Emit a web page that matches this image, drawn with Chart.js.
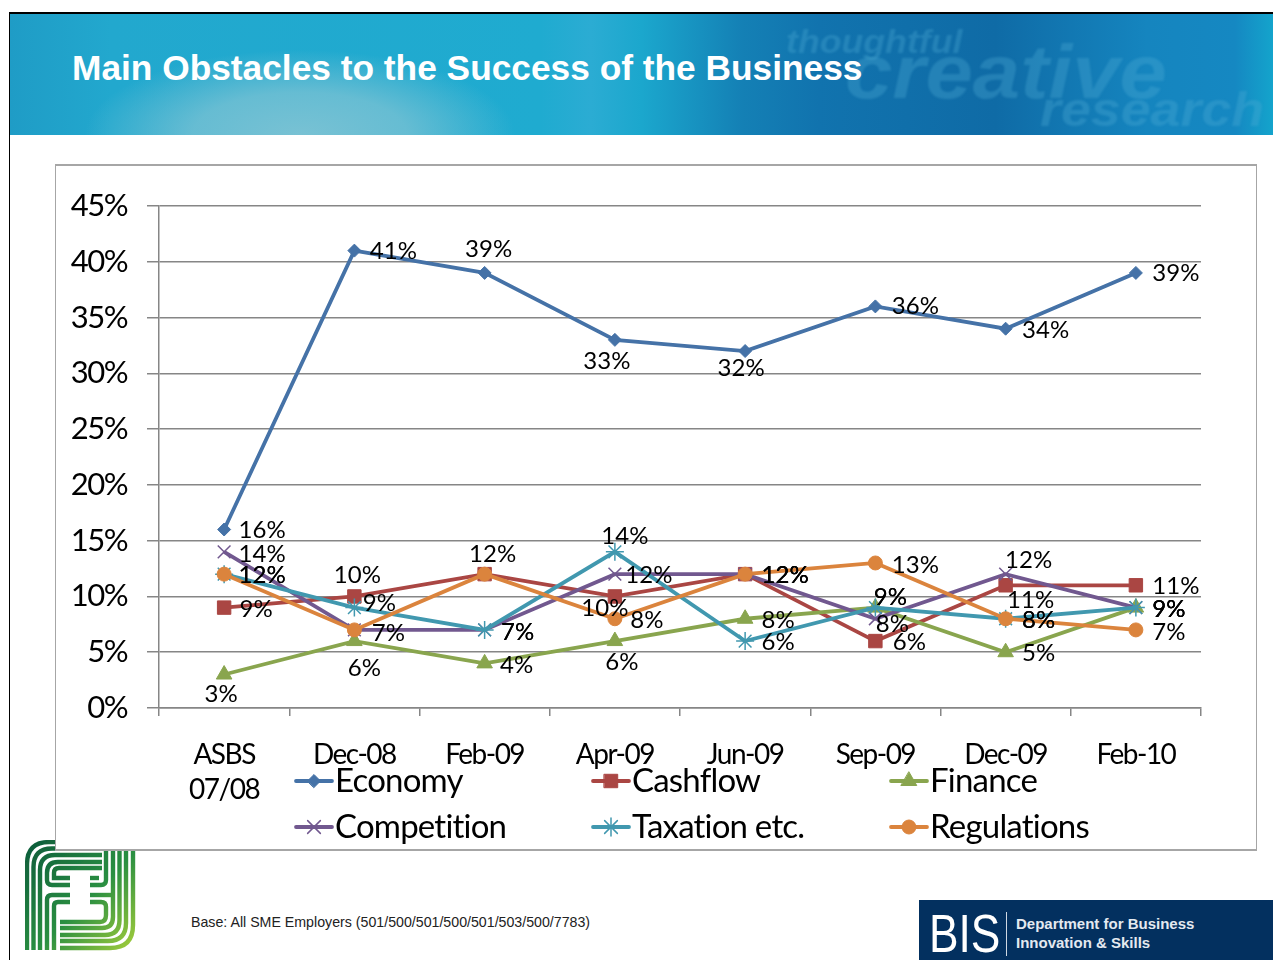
<!DOCTYPE html>
<html>
<head>
<meta charset="utf-8">
<title>Main Obstacles to the Success of the Business</title>
<script src="https://cdn.jsdelivr.net/npm/chart.js@4"></script>
<style>
  html, body { margin: 0; padding: 0; background: #fff; }
  #page { position: relative; width: 1273px; height: 960px; overflow: hidden; font-family: "Liberation Sans", Arial, sans-serif; }
  #edgeLeft { position: absolute; left: 9px; top: 12px; width: 1px; height: 948px; background: #000; }
  #header {
    position: absolute; left: 10px; top: 12px; width: 1263px; height: 123px; overflow: hidden; border-top: 2px solid #000; box-sizing: border-box;
    background:
      radial-gradient(ellipse 215px 85px at 290px 121px, rgba(125,195,212,.95), rgba(125,195,212,.75) 50%, rgba(125,195,212,0)),
      linear-gradient(90deg, #1f9cc6 0%, #22a8ce 8%, #1fabd0 42%, #2bacd3 46%, #1ba7cd 50%, #1480b5 58%, #1173ae 64%, #0f6ba6 78%, #1585bf 90%, #1588c2 97%, #14a4cc 100%);
  }
  #header h1 { position: absolute; left: 62px; top: 34px; margin: 0; font-size: 35.3px; font-weight: bold; color: #fff; white-space: nowrap; line-height: 40px; }
  .mark { position: absolute; font-style: italic; font-weight: bold; color: rgba(80,175,215,.32); white-space: nowrap; transform-origin: left top; filter: blur(1px); }
  #box { position: absolute; left: 55px; top: 164px; width: 1200px; height: 683px; background: #fff; border: solid #a6a6a6; border-width: 2px 1px 2px 1px; z-index: 2; }
  #box canvas { position: absolute; left: 0; top: 0; }
  #logo { position: absolute; left: 25px; top: 840px; z-index: 1; }
  #base { position: absolute; left: 191px; top: 914px; font-size: 14.2px; color: #222; white-space: nowrap; }
  #bis { position: absolute; left: 919px; top: 900px; width: 354px; height: 60px; background: #03305f; color: #fff; overflow: hidden; }
  #bis .big { position: absolute; left: 10px; top: 4px; font-size: 54px; line-height: 58px; transform: scaleX(.82); transform-origin: left; }
  #bis .rule { position: absolute; left: 87px; top: 12px; width: 1px; height: 44px; background: #cfd8e3; }
  #bis .t { position: absolute; left: 97px; font-size: 15px; font-weight: bold; color: #e4e9f0; white-space: nowrap; }
</style>
</head>
<body>
<div id="page">
  <div id="edgeLeft"></div>
  <div id="header">
    <span class="mark" style="left:776px;top:8px;font-size:34px;transform:scaleX(1.05)">thoughtful</span>
    <span class="mark" style="left:835px;top:14px;font-size:76px;transform:scaleX(1.12)">creative</span>
    <span class="mark" style="left:1030px;top:68px;font-size:48px;transform:scaleX(1.12)">research</span>
    <h1>Main Obstacles to the Success of the Business</h1>
  </div>

  <svg id="logo" width="111" height="111" viewBox="0 0 111 111">
    <defs>
      <linearGradient id="lg" gradientUnits="userSpaceOnUse" x1="0" y1="0" x2="111" y2="111">
        <stop offset="0" stop-color="#0c5a3a"/>
        <stop offset=".55" stop-color="#2a8f42"/>
        <stop offset="1" stop-color="#a8d03a"/>
      </linearGradient>
      <filter id="suave"><feGaussianBlur stdDeviation=".45"/></filter>
    </defs>
    <g fill="none" stroke="url(#lg)" stroke-width="4.4" filter="url(#suave)">
      <path d="M2 110 V24 Q2 2 24 2 H34"/>
      <path d="M8.5 110 V27 Q8.5 8.5 27 8.5 H34"/>
      <path d="M15 110 V30 Q15 15 30 15 H77"/>
      <path d="M45 45 H27 Q22 45 22 40 V33 Q22 22 33 22 H77"/>
      <path d="M45 38 H29 V33 Q29 28 34 28 H77"/>
      <path d="M22 110 V60 Q22 55 27 55 H45"/>
      <path d="M29 110 V66 Q29 62 33 62 H45"/>
      <path d="M108 10 V85 Q108 108 85 108 H35"/>
      <path d="M101 10 V83 Q101 101 83 101 H35"/>
      <path d="M94.5 10 V80 Q94.5 95 80 95 H35"/>
      <path d="M88 10 V77 Q88 88 77 88 H35"/>
      <path d="M65 62 H76 Q81 62 81 67 V75 Q81 82 75 82 H35"/>
      <path d="M81 10 V40 Q81 45 76 45 H65"/>
      <path d="M65 38 H74"/>
      <path d="M65 55 H86"/>
    </g>
  </svg>

  <div id="box"><canvas id="chart" width="1200" height="685"></canvas></div>

  <div id="base">Base: All SME Employers (501/500/501/500/501/503/500/7783)</div>

  <div id="bis">
    <span class="big">BIS</span>
    <span class="rule"></span>
    <span class="t" style="top:15px">Department for Business</span>
    <span class="t" style="top:34px">Innovation &amp; Skills</span>
  </div>
</div>

<script>
const categorias = [['ASBS', '07/08'], 'Dec-08', 'Feb-09', 'Apr-09', 'Jun-09', 'Sep-09', 'Dec-09', 'Feb-10'];

const economy     = [16, 41, 39, 33, 32, 36, 34, 39];
const cashflow    = [9, 10, 12, 10, 12, 6, 11, 11];
const finance     = [3, 6, 4, 6, 8, 9, 5, 9];
const competition = [14, 7, 7, 12, 12, 8, 12, 9];
const taxation    = [12, 9, 7, 14, 6, 9, 8, 9];
const regulations = [12, 7, 12, 8, 12, 13, 8, 7];

// where each value label sits relative to its point, null = no label
const offEconomy     = [[38, 1], [39, 1], [4, -24], [-8, 21], [-4, 17], [40, 0], [40, 2], [40, 0]];
const offCashflow    = [[32, 2], [3, -21], [8, -20], [-10, 12], [40, 1], [34, 1], [25, 15], [40, 1]];
const offFinance     = [[-3, 20], [10, 27], [32, 2], [7, 21], [33, 2], [15, -10], [33, 1], [33, 2]];
const offCompetition = [[38, 2], [34, 3], [33, 2], [34, 1], [40, 1], [17, 6], [23, -14], [33, 2]];
const offTaxation    = [[38, 1], [25, -4], [33, 2], [10, -16], [33, 1], [15, -10], [33, 2], [33, 2]];
const offRegulations = [[38, 1], null, null, [32, 2], [40, 1], [40, 2], [33, 2], [33, 2]];

const fonte = 'Lato, "Open Sans", sans-serif';
const corGrade = '#868686';

function serie(label, data, cor, estilo, raio, offsets, ordem) {
  return {
    label, data, offsets,
    order: ordem,
    borderColor: cor,
    backgroundColor: cor,
    borderWidth: 3.8,
    pointStyle: estilo,
    pointRadius: raio,
    pointHoverRadius: raio,
    pointBackgroundColor: cor,
    pointBorderColor: cor,
    pointBorderWidth: estilo === 'crossRot' || estilo === 'star' ? 1.5 : 1,
    tension: 0,
  };
}

// the source type is tall and narrow, so tighten the axis text a little
const apertaTexto = {
  id: 'apertaTexto',
  beforeDraw(chart) { chart.ctx.letterSpacing = '-1.5px'; }
};

const rotulos = {
  id: 'rotulos',
  afterDatasetsDraw(chart) {
    const ctx = chart.ctx;
    ctx.letterSpacing = '0px';
    ctx.save();
    ctx.font = '24px ' + fonte;
    ctx.fillStyle = '#000';
    ctx.textAlign = 'center';
    ctx.textBaseline = 'middle';
    chart.data.datasets.forEach((ds, i) => {
      chart.getDatasetMeta(i).data.forEach((p, j) => {
        const o = ds.offsets[j];
        if (!o) return;
        ctx.fillText(ds.data[j] + '%', p.x + o[0], p.y + o[1]);
      });
    });
    ctx.restore();
  }
};

const legenda = {
  id: 'legenda',
  afterDraw(chart) {
    const ctx = chart.ctx;
    const colunas = [240, 537, 835];
    const linhas = [615, 661];
    ctx.save();
    ctx.font = '33px ' + fonte;
    ctx.letterSpacing = '-0.8px';
    ctx.textBaseline = 'middle';
    chart.data.datasets.forEach((ds, i) => {
      const x = colunas[i % 3];
      const y = linhas[Math.floor(i / 3)];
      ctx.strokeStyle = ds.borderColor;
      ctx.lineWidth = ds.borderWidth;
      ctx.lineCap = 'round';
      ctx.beginPath();
      ctx.moveTo(x, y);
      ctx.lineTo(x + 36, y);
      ctx.stroke();
      ctx.fillStyle = ds.pointBackgroundColor;
      ctx.lineWidth = ds.pointBorderWidth;
      Chart.helpers.drawPoint(ctx, { pointStyle: ds.pointStyle, radius: ds.pointRadius, borderWidth: ds.pointBorderWidth, rotation: 0 }, x + 18, y);
      ctx.fillStyle = '#000';
      ctx.fillText(ds.label, x + 39, y);
    });
    ctx.restore();
  }
};

new Chart(document.getElementById('chart').getContext('2d'), {
  type: 'line',
  data: {
    labels: categorias,
    datasets: [
      serie('Economy', economy, '#4572A7', 'rectRot', 6.5, offEconomy, 6),
      serie('Cashflow', cashflow, '#AA4643', 'rect', 9.5, offCashflow, 5),
      serie('Finance', finance, '#89A54E', 'triangle', 9, offFinance, 4),
      serie('Competition', competition, '#71588F', 'crossRot', 9, offCompetition, 3),
      serie('Taxation etc.', taxation, '#4198AF', 'star', 9, offTaxation, 2),
      serie('Regulations', regulations, '#DB843D', 'circle', 7, offRegulations, 1),
    ]
  },
  options: {
    responsive: false,
    animation: false,
    layout: { padding: { top: 40, right: 55, left: 0, bottom: 0 } },
    plugins: {
      legend: { display: false },
      tooltip: { enabled: false },
    },
    scales: {
      x: {
        offset: true,
        afterFit(s) { s.height = 143; },
        grid: { offset: true, drawOnChartArea: false, drawTicks: true, tickLength: 8, color: corGrade, lineWidth: 1.5 },
        border: { color: corGrade, width: 1.5 },
        ticks: { color: '#000', padding: 21, maxRotation: 0, autoSkip: false, font: { family: fonte, size: 28, lineHeight: 1.25 } },
      },
      y: {
        min: 0,
        max: 45,
        afterFit(s) { s.width = 103; },
        grid: { color: corGrade, lineWidth: 1.5, tickLength: 12 },
        border: { color: corGrade, width: 1.5 },
        ticks: { stepSize: 5, color: '#000', padding: 20, callback: v => v + '%', font: { family: fonte, size: 31 } },
      }
    }
  },
  plugins: [apertaTexto, rotulos, legenda]
});
</script>
</body>
</html>
